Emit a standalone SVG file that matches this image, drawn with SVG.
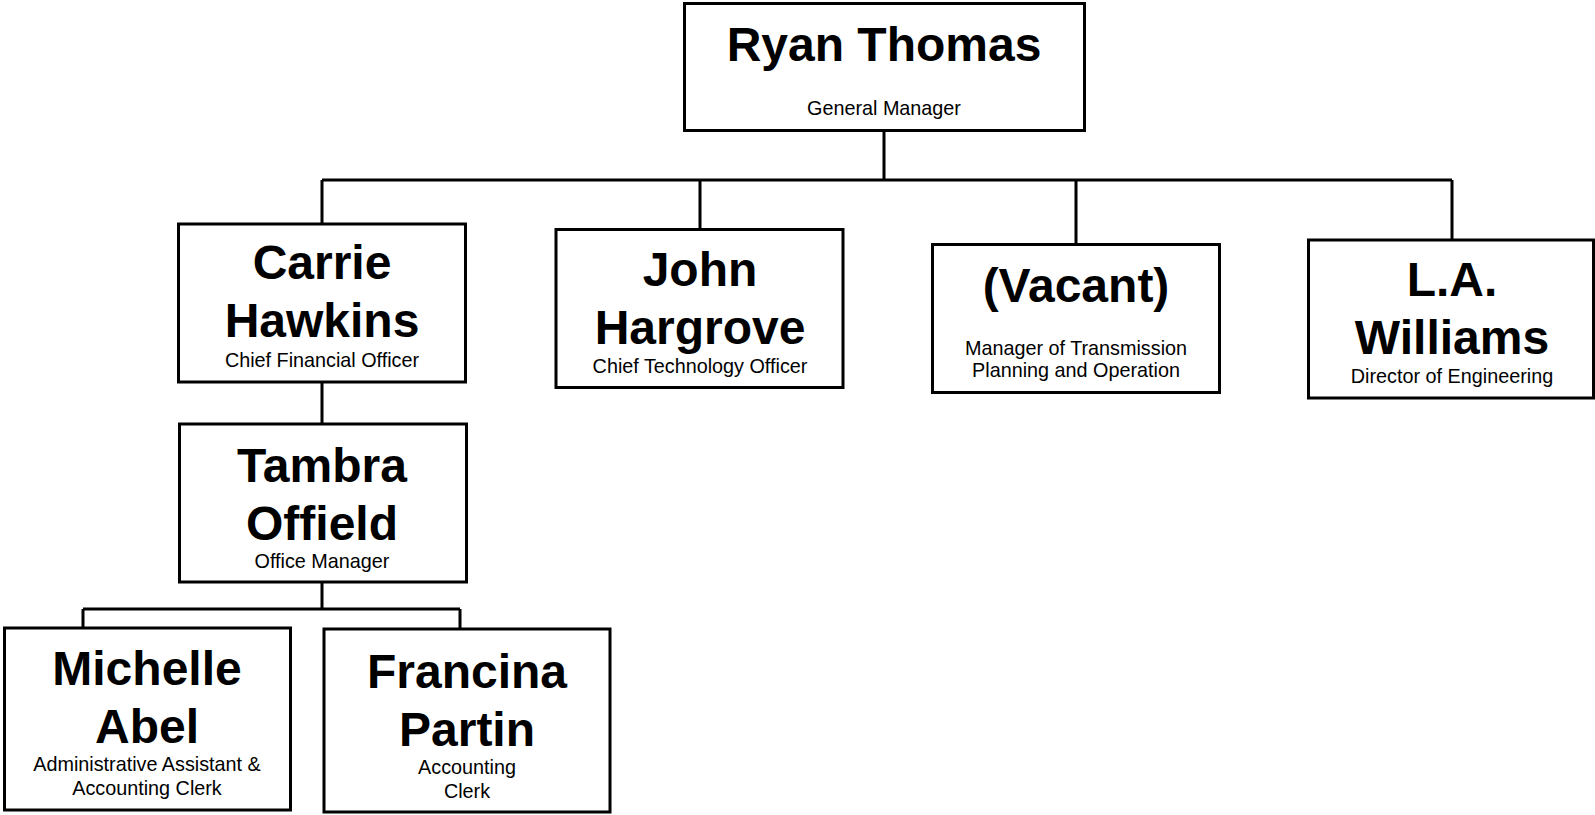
<svg xmlns="http://www.w3.org/2000/svg" width="1595" height="815" viewBox="0 0 1595 815">
<style>
.box{fill:#fff;stroke:#000;stroke-width:3}
.ln{stroke:#000;stroke-width:3;fill:none}
.nm{font-family:"Liberation Sans",Arial,sans-serif;font-weight:bold;font-size:48px;text-anchor:middle;fill:#000}
.tt{font-family:"Liberation Sans",Arial,sans-serif;font-size:19.8px;text-anchor:middle;fill:#000}
</style>
<rect width="1595" height="815" fill="#fff"/>
<g id="connectors">
<path class="ln" d="M884 130V180M322 180H1452M322 180V224M700 180V229M1076 180V244M1452 180V240"/>
<path class="ln" d="M322 382V424M322 582V609M83 609H460M83 609V628M460 609V629"/>
</g>
<g id="ryan-thomas">
<rect class="box" x="684.5" y="3.5" width="400" height="127"/>
<text class="nm" x="884" y="61">Ryan Thomas</text>
<text class="tt" x="884" y="115">General Manager</text>
</g>
<g id="carrie-hawkins">
<rect class="box" x="178.5" y="224" width="287" height="158"/>
<text class="nm" x="322" y="279">Carrie</text>
<text class="nm" x="322" y="337">Hawkins</text>
<text class="tt" x="322" y="367">Chief Financial Officer</text>
</g>
<g id="john-hargrove">
<rect class="box" x="556" y="229.5" width="287" height="158"/>
<text class="nm" x="700" y="286">John</text>
<text class="nm" x="700" y="344">Hargrove</text>
<text class="tt" x="700" y="373">Chief Technology Officer</text>
</g>
<g id="vacant">
<rect class="box" x="932.5" y="244.5" width="287" height="148"/>
<text class="nm" x="1076" y="302">(Vacant)</text>
<text class="tt" x="1076" y="355">Manager of Transmission</text>
<text class="tt" x="1076" y="377">Planning and Operation</text>
</g>
<g id="la-williams">
<rect class="box" x="1308.5" y="240" width="285" height="158"/>
<text class="nm" x="1452" y="296">L.A.</text>
<text class="nm" x="1452" y="354">Williams</text>
<text class="tt" x="1452" y="383">Director of Engineering</text>
</g>
<g id="tambra-offield">
<rect class="box" x="179.5" y="424" width="287" height="158"/>
<text class="nm" x="322" y="482">Tambra</text>
<text class="nm" x="322" y="540">Offield</text>
<text class="tt" x="322" y="568">Office Manager</text>
</g>
<g id="michelle-abel">
<rect class="box" x="4.5" y="628" width="286" height="182"/>
<text class="nm" x="147" y="685">Michelle</text>
<text class="nm" x="147" y="743">Abel</text>
<text class="tt" x="147" y="771">Administrative Assistant &amp;</text>
<text class="tt" x="147" y="795">Accounting Clerk</text>
</g>
<g id="francina-partin">
<rect class="box" x="324" y="629" width="286" height="183"/>
<text class="nm" x="467" y="688">Francina</text>
<text class="nm" x="467" y="746">Partin</text>
<text class="tt" x="467" y="774">Accounting</text>
<text class="tt" x="467" y="798">Clerk</text>
</g>
</svg>
